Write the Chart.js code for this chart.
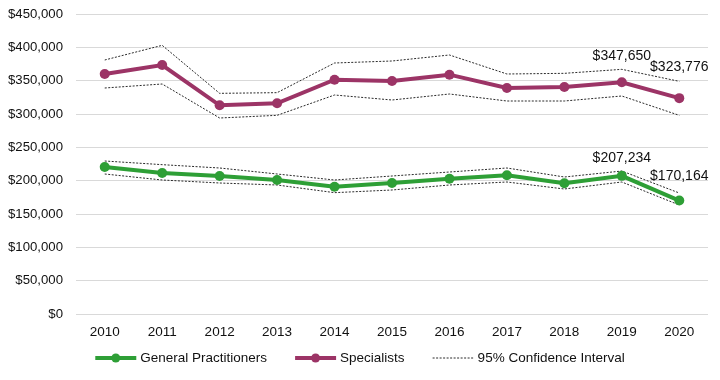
<!DOCTYPE html>
<html>
<head>
<meta charset="utf-8">
<script src="https://cdn.jsdelivr.net/npm/chart.js@4"></script>
<style>
    html, body { margin: 0; padding: 0; background: #fff; }
    #wrap { width: 720px; height: 380px; }
</style>
</head>
<body>
<div id="wrap"><canvas id="incomeChart" width="720" height="380"></canvas></div>
<script>
// Years and series
const years = ['2010', '2011', '2012', '2013', '2014', '2015', '2016', '2017', '2018', '2019', '2020'];

const gpMean  = [220500, 211500, 207000, 201000, 191000, 196500, 203000, 208000, 196000, 207234, 170164];
const gpUpper = [229500, 224000, 219000, 210000, 201000, 207000, 213000, 219000, 205500, 214500, 181500];
const gpLower = [210000, 201000, 196500, 193500, 182000, 186000, 193500, 198000, 187500, 198000, 163500];

const spMean  = [360000, 373500, 313000, 316000, 351500, 349500, 359000, 339000, 340500, 347650, 323776];
const spUpper = [381000, 403000, 331000, 332000, 376500, 379500, 388500, 360000, 361000, 367000, 349000];
const spLower = [339000, 345000, 294000, 298000, 328500, 321000, 330000, 319500, 319500, 327000, 298000];

const yTicks = [0, 50000, 100000, 150000, 200000, 250000, 300000, 350000, 400000, 450000];

// points that get a value label: [dataset index, point index]
const labelledPoints = [[0, 9], [0, 10], [1, 9], [1, 10]];

const GREEN = '#2e9f36';
const PURPLE = '#9c3466';
const CI_COLOR = '#2a2a2a';
const FONT = "'Liberation Sans', Arial, sans-serif";

const money = v => '$' + v.toLocaleString('en-US');

function ciLine(data) {
    return {
        data: data,
        borderColor: CI_COLOR,
        borderWidth: 1,
        borderDash: [2, 1.5],
        pointRadius: 0,
        fill: false,
        order: 2
    };
}

// value labels above the last two points of each main series
const valueLabels = {
    id: 'valueLabels',
    afterDatasetsDraw(chart) {
        const ctx = chart.ctx;
        const offsets = { '0-9': -18, '0-10': -24, '1-9': -26, '1-10': -31 };
        ctx.save();
        ctx.font = '14px ' + FONT;
        ctx.fillStyle = '#111';
        ctx.textAlign = 'center';
        ctx.textBaseline = 'middle';
        labelledPoints.forEach(([ds, i]) => {
            const pt = chart.getDatasetMeta(ds).data[i];
            const v = chart.data.datasets[ds].data[i];
            ctx.fillText(money(v), pt.x, pt.y + offsets[ds + '-' + i]);
        });
        ctx.restore();
    }
};

// bottom legend: two marker lines and one dotted line
const bottomLegend = {
    id: 'bottomLegend',
    afterDraw(chart) {
        const ctx = chart.ctx;
        const items = [
            { text: 'General Practitioners', color: GREEN, kind: 'marker' },
            { text: 'Specialists', color: PURPLE, kind: 'marker' },
            { text: '95% Confidence Interval', color: CI_COLOR, kind: 'dotted' }
        ];
        const lineLen = 41, gap = 4, itemGap = 28, y = 358;
        ctx.save();
        ctx.font = '13.5px ' + FONT;
        const widths = items.map(it => lineLen + gap + ctx.measureText(it.text).width);
        const total = widths.reduce((a, b) => a + b, 0) + itemGap * (items.length - 1);
        let x = (chart.width - total) / 2;
        items.forEach((it, k) => {
            ctx.strokeStyle = it.color;
            ctx.beginPath();
            if (it.kind === 'marker') {
                ctx.lineWidth = 4;
                ctx.setLineDash([]);
            } else {
                ctx.lineWidth = 1;
                ctx.setLineDash([2, 1.5]);
            }
            ctx.moveTo(x, y);
            ctx.lineTo(x + lineLen, y);
            ctx.stroke();
            ctx.setLineDash([]);
            if (it.kind === 'marker') {
                ctx.fillStyle = it.color;
                ctx.beginPath();
                ctx.arc(x + lineLen / 2, y, 4.5, 0, Math.PI * 2);
                ctx.fill();
            }
            ctx.fillStyle = '#111';
            ctx.textBaseline = 'middle';
            ctx.fillText(it.text, x + lineLen + gap, y);
            x += widths[k] + itemGap;
        });
        ctx.restore();
    }
};

const ctx = document.getElementById('incomeChart').getContext('2d');
new Chart(ctx, {
    type: 'line',
    data: {
        labels: years,
        datasets: [
            {
                label: 'General Practitioners',
                data: gpMean,
                borderColor: GREEN,
                backgroundColor: GREEN,
                borderWidth: 4,
                pointRadius: 5,
                pointBorderWidth: 0,
                order: 1
            },
            {
                label: 'Specialists',
                data: spMean,
                borderColor: PURPLE,
                backgroundColor: PURPLE,
                borderWidth: 4,
                pointRadius: 5,
                pointBorderWidth: 0,
                order: 1
            },
            ciLine(gpUpper),
            ciLine(gpLower),
            ciLine(spUpper),
            ciLine(spLower)
        ]
    },
    options: {
        responsive: false,
        animation: false,
        layout: { padding: { top: 14, right: 12, bottom: 40, left: 0 } },
        plugins: {
            legend: { display: false },
            tooltip: { enabled: false }
        },
        scales: {
            x: {
                offset: true,
                grid: { display: false },
                border: { display: false },
                ticks: { color: '#111', font: { family: FONT, size: 13.5 }, padding: 2, maxRotation: 0 },
                afterFit: s => { s.height = 26; }
            },
            y: {
                min: 0,
                max: 450000,
                afterBuildTicks: s => { s.ticks = yTicks.map(v => ({ value: v })); },
                grid: { color: '#d9d9d9', lineWidth: 1, drawTicks: false },
                border: { display: false },
                ticks: { color: '#111', font: { family: FONT, size: 13.2 }, padding: 13, callback: v => money(v) },
                // fixed axis width; drop the label overhang so the plot starts at the padding
                afterFit: s => { s.width = 76; s.paddingTop = 0; s.paddingBottom = 0; }
            }
        }
    },
    plugins: [valueLabels, bottomLegend]
});
</script>
</body>
</html>
